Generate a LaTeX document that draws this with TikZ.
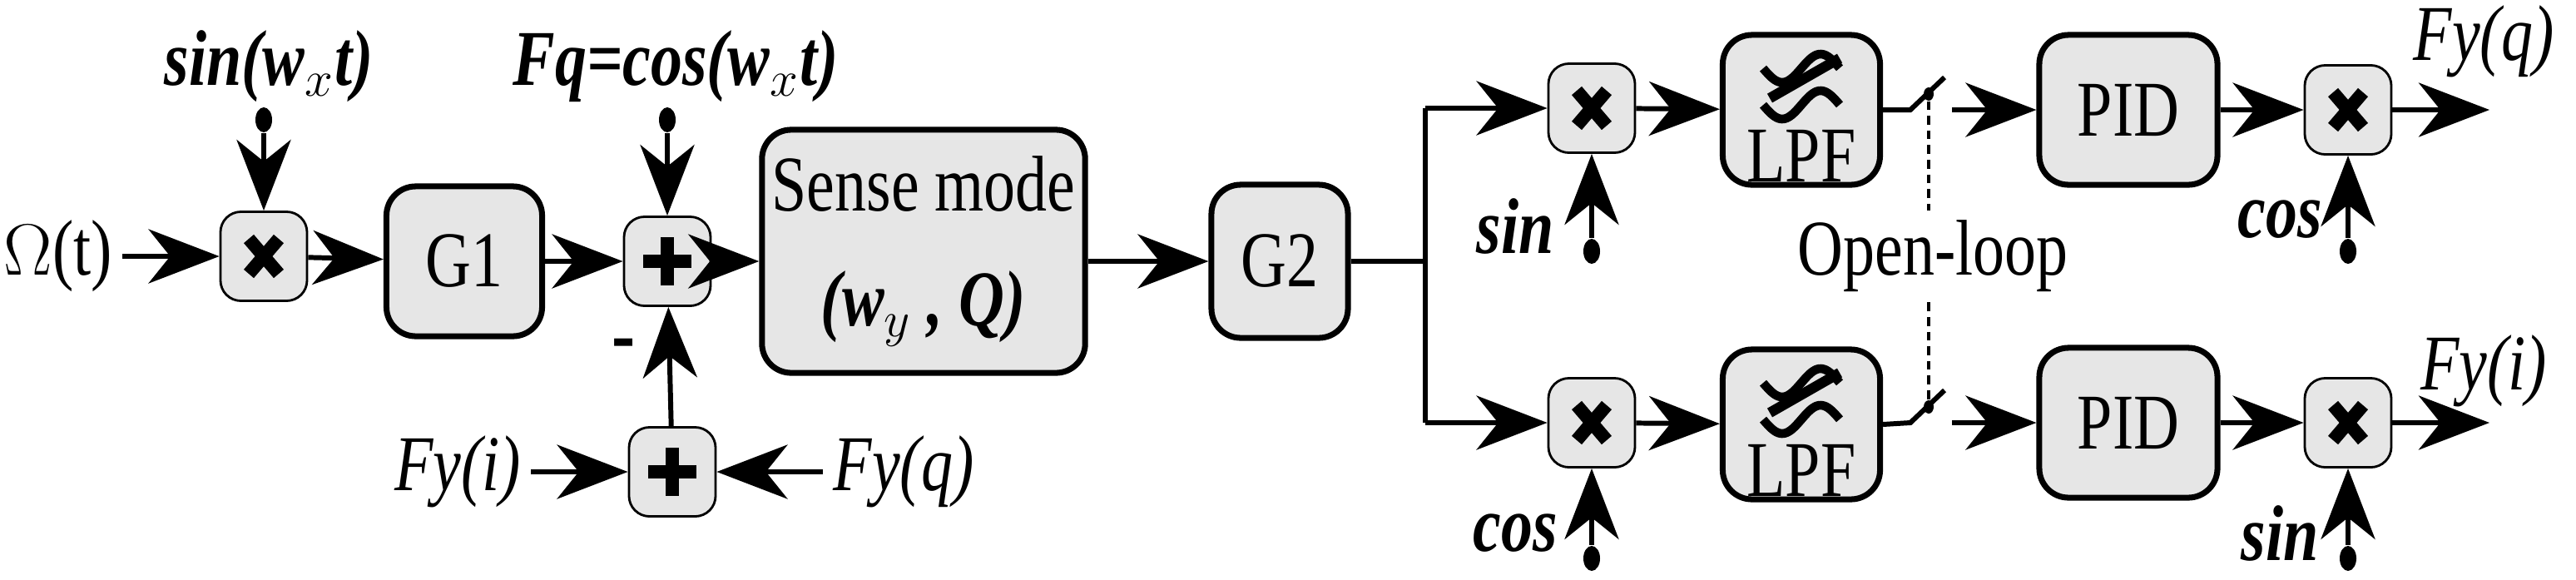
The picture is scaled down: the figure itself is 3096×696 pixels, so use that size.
\documentclass[tikz,border=0pt]{standalone}
\usepackage{fontspec}
\setmainfont{Liberation Serif}[FakeStretch=0.8]
\usetikzlibrary{arrows.meta,shapes.geometric}
\definecolor{boxgray}{HTML}{E6E6E6}
\begin{document}
\begin{tikzpicture}[x=0.01cm,y=-0.01cm,
  every node/.style={font=\fontsize{27}{31}\selectfont},
  lab/.style={font=\fontsize{27}{31}\selectfont\bfseries\itshape},
  ilab/.style={font=\fontsize{27}{31}\selectfont\itshape},
  blk/.style={draw, line width=2pt, fill=boxgray, rounded corners=10pt, minimum width=#1},
  sm/.style={draw, line width=0.8pt, fill=boxgray, rounded corners=7pt, minimum width=1.04cm, minimum height=1.07cm},
  mul/.style={sm, path picture={
    \draw[line width=4.5pt] ([shift={(-18,-21)}]path picture bounding box.center) -- ([shift={(18,21)}]path picture bounding box.center);
    \draw[line width=4.5pt] ([shift={(18,-21)}]path picture bounding box.center) -- ([shift={(-18,21)}]path picture bounding box.center);}},
  add/.style={sm, path picture={
    \draw[line width=4.5pt] ([shift={(-29,0)}]path picture bounding box.center) -- ([shift={(29,0)}]path picture bounding box.center);
    \draw[line width=4.5pt] ([shift={(0,-29)}]path picture bounding box.center) -- ([shift={(0,29)}]path picture bounding box.center);}},
  ar/.style={-{Stealth[length=0.85cm,width=0.65cm,inset=0.26cm]}, line width=1.7pt},
  ln/.style={line width=1.7pt},
  dot/.style={ellipse, fill=black, inner sep=0pt, minimum width=0.2cm, minimum height=0.3cm}]
\useasboundingbox (0,0) rectangle (3096,696);
% left part
\node (omega) at (70,308) {$\Omega$(t)};
\node[mul] (m1) at (317,308) {};
\node[blk=1.87cm, minimum height=1.80cm] (g1) at (558,314) {G1};
\node[add] (p1) at (802,314) {};
\node[blk=3.10cm, minimum height=2.92cm, align=center] (sense) at (1110,302) {Sense mode\\[8pt]\textbf{\textit{(w$_y$ , Q)}}};
\node[blk=1.64cm, minimum height=1.84cm] (g2) at (1538,314) {G2};
\node[add] (p2) at (808,567) {};
\node[ilab] (fyi) at (550,567) {Fy(i)};
\node[ilab] (fyq) at (1086,567) {Fy(q)};
\node[lab] (s1l) at (323,80) {sin(w$_x$t)};
\node[lab] (c1l) at (812,80) {Fq=cos(w$_x$t)};
\node[dot] (d1) at (317,144) {};
\node[dot] (d2) at (802,144) {};
\node[font=\fontsize{30}{30}\selectfont\bfseries] (minus) at (750,422) {-};
\draw[ar] (omega) -- (m1);
\draw[ar] (m1) -- (g1);
\draw[ar] (g1) -- (p1);
\draw[ar] (p1) -- (p1 -| sense.west);
\draw[ar] (g2 -| sense.east) -- (g2);
\draw[ar] (d1) -- (m1);
\draw[ar] (d2) -- (p1);
\draw[ar] (p2) -- (p1);
\draw[ar] (fyi) -- (p2);
\draw[ar] (fyq) -- (p2);
% right part
\coordinate (br) at (1713,314);
\coordinate (brT) at (1713,130);
\coordinate (brB) at (1713,508);
\node[mul] (mT) at (1913,130) {};
\node[mul] (mB) at (1913,508) {};
\node[blk=1.89cm, minimum height=1.80cm] (lT) at (2165,132) {};
\node[blk=1.89cm, minimum height=1.80cm] (lB) at (2165,510) {};
\node (lTt) at (2165,187) {LPF};
\node (lBt) at (2165,565) {LPF};
\foreach \c in {lT,lB}{
  \begin{scope}[shift={(\c.center)}]
    \draw[line width=3pt] plot[domain=-46:46, samples=50, smooth] (\x, {-50 - 17*sin(3.9*\x)});
    \draw[line width=3pt] plot[domain=-46:46, samples=50, smooth] (\x, {-6 - 17*sin(3.9*\x)});
    \draw[line width=3.5pt] (-38,-14) -- (46,-62);
  \end{scope}}
\node[blk=2.14cm, minimum height=1.80cm] (pT) at (2558,132) {PID};
\node[blk=2.14cm, minimum height=1.80cm] (pB) at (2558,508) {PID};
\node[mul] (mTR) at (2822,132) {};
\node[mul] (mBR) at (2822,508) {};
\coordinate (swT1) at (2296,132); \coordinate (swT2) at (2337,93);
\coordinate (swB1) at (2296,508); \coordinate (swB2) at (2337,469);
\node[dot, minimum width=0.12cm, minimum height=0.16cm] (swTd) at (2318,113) {};
\node[dot, minimum width=0.12cm, minimum height=0.16cm] (swBd) at (2318,489) {};
\coordinate (aT) at (2346,132); \coordinate (aB) at (2346,508);
\coordinate (oT) at (2992,132); \coordinate (oB) at (2992,508);
\draw[ln] (g2) -- (br) -- (brT);
\draw[ln] (br) -- (brB);
\draw[ar] (brT) -- (mT);
\draw[ar] (brB) -- (mB);
\draw[ar] (mT) -- (lT);
\draw[ar] (mB) -- (lB);
\draw[ln] (lT.east) -- (swT1) -- (swT2);
\draw[ln] (lB.east) -- (swB1) -- (swB2);
\draw[ar] (aT) -- (pT);
\draw[ar] (aB) -- (pB);
\draw[ar] (pT) -- (mTR);
\draw[ar] (pB) -- (mBR);
\draw[ar] (mTR) -- (oT);
\draw[ar] (mBR) -- (oB);
\node (ol) at (2323,308) {Open-loop};
\draw[line width=1pt, densely dashed] (swTd) -- (ol.north -| swTd);
\draw[line width=1pt, densely dashed] (ol.south -| swBd) -- (swBd);
\node[ilab] at (2985,50) {Fy(q)};
\node[ilab] at (2985,446) {Fy(i)};
\node[dot] (dT) at (1913,302) {};
\node[dot] (dB) at (1913,671) {};
\node[dot] (dTR) at (2822,302) {};
\node[dot] (dBR) at (2822,671) {};
\draw[ar] (dT) -- (mT);
\draw[ar] (dB) -- (mB);
\draw[ar] (dTR) -- (mTR);
\draw[ar] (dBR) -- (mBR);
\node[lab] at (1821,272) {sin};
\node[lab] at (1821,641) {cos};
\node[lab] at (2740,264) {cos};
\node[lab] at (2740,641) {sin};
\end{tikzpicture}
\end{document}
